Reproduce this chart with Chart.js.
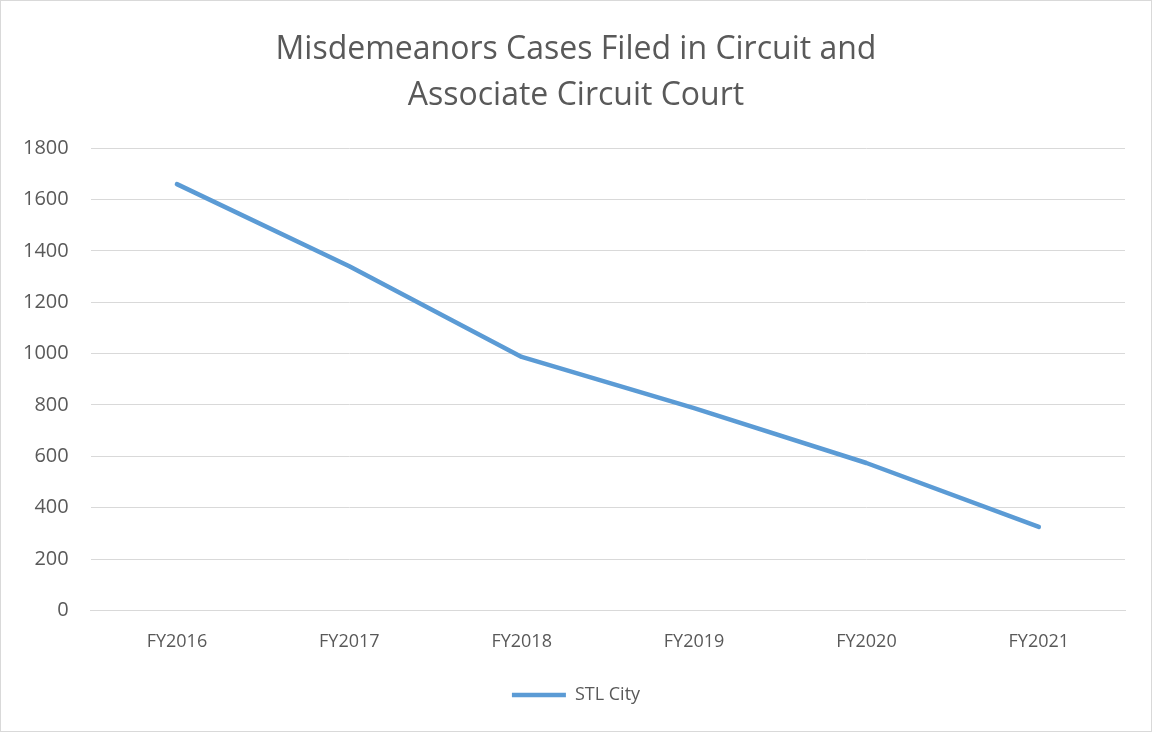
<!DOCTYPE html>
<html>
<head>
<meta charset="utf-8">
<script src="https://cdn.jsdelivr.net/npm/chart.js@4.4.0/dist/chart.umd.min.js"></script>
<style>
  html, body { margin: 0; padding: 0; background: #fff; }
  #wrap {
    position: relative;
    width: 1150px;
    height: 730px;
    border: 1px solid #d9d9d9;
  }
</style>
</head>
<body>
<div id="wrap"><canvas id="chart"></canvas></div>
<script>
const years = ["FY2016", "FY2017", "FY2018", "FY2019", "FY2020", "FY2021"];
const stlCity = [1660, 1340, 987, 788, 574, 325];
const yTicks = [0, 200, 400, 600, 800, 1000, 1200, 1400, 1600, 1800];
const titleLines = ["Misdemeanors Cases Filed in Circuit and", "Associate Circuit Court"];

const grey = "#595959";
const font = "'Open Sans', 'Noto Sans', sans-serif";

const ctx = document.getElementById("chart").getContext("2d");
new Chart(ctx, {
  type: "line",
  data: {
    labels: years,
    datasets: [
      {
        label: "STL City",
        data: stlCity,
        borderColor: "#5b9bd5",
        backgroundColor: "#5b9bd5",
        borderWidth: 4.5,
        borderCapStyle: "round",
        borderJoinStyle: "round",
        pointRadius: 0,
        tension: 0,
        fill: false,
      },
    ],
  },
  options: {
    responsive: true,
    maintainAspectRatio: false,
    animation: false,
    layout: { padding: { left: 0, right: 0, top: 26, bottom: 17 } },
    plugins: {
      title: {
        display: true,
        text: titleLines,
        color: grey,
        font: { family: font, size: 32, weight: "normal", lineHeight: 1.44 },
        padding: { top: 0, bottom: 29 },
      },
      legend: {
        display: true,
        position: "bottom",
        labels: {
          color: grey,
          font: { family: font, size: 18 },
          usePointStyle: true,
          pointStyle: "line",
          pointStyleWidth: 54,
          boxWidth: 54,
          padding: 12,
        },
      },
      tooltip: { enabled: false },
    },
    scales: {
      x: {
        offset: true,
        grid: { display: false, drawTicks: false },
        border: { display: true, color: "#d9d9d9", width: 1 },
        ticks: { color: grey, font: { family: font, size: 18 }, padding: 21 },
        afterFit: (s) => { s.paddingRight = 26; },
      },
      y: {
        min: 0,
        max: 1800,
        afterBuildTicks: (axis) => { axis.ticks = yTicks.map((v) => ({ value: v })); },
        grid: { color: "#d9d9d9", lineWidth: 1, drawTicks: false },
        border: { display: false },
        ticks: {
          color: grey,
          font: { family: font, size: 20 },
          padding: 22,
          callback: (v) => String(v),
        },
      },
    },
  },
});
</script>
</body>
</html>
